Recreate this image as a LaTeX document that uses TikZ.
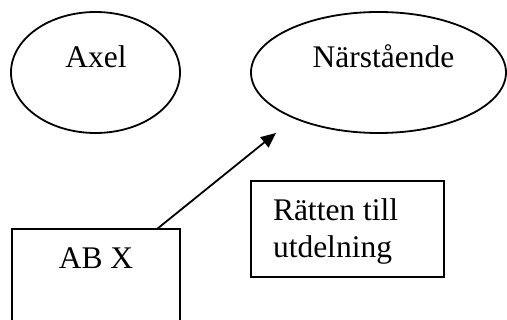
\documentclass[tikz,border=0pt]{standalone}
\usepackage{fontspec}
\setmainfont{Liberation Serif}
\usetikzlibrary{shapes.geometric,arrows.meta}
\begin{document}
\begin{tikzpicture}[x=1pt,y=-1pt,
  line width=1.8pt,
  every node/.style={inner sep=0pt,outer sep=0pt},
  oval/.style={draw,ellipse},
  boxshape/.style={draw,rectangle},
  lbl/.style={font=\fontsize{31.5}{37}\selectfont,anchor=base},
  arr/.style={-{Triangle[length=15pt,width=13pt]}}]
  \useasboundingbox (0,0) rectangle (507,320);

  % ellipses
  \node[oval,minimum width=169pt,minimum height=121pt] (axel) at (95.5,72.5) {};
  \node[lbl] (axeltext) at (96,68) {Axel};
  \node[oval,minimum width=255pt,minimum height=121pt] (nar) at (378.5,72.5) {};
  \node[lbl] (nartext) at (383.5,68) {Närstående};

  % boxes
  \node[boxshape,minimum width=168pt,minimum height=140pt,anchor=north west] (abx) at (12,229) {};
  \node[lbl] (abxtext) at (96,269) {AB X};
  \node[boxshape,minimum width=193pt,minimum height=96pt,anchor=north west] (ratt) at (251,181) {};
  \node[lbl,anchor=base west,align=left] (ratttext) at (273,258) {Rätten till\\utdelning};

  % connector
  \coordinate (tip) at (276,133);
  \draw[arr] ([xshift=61pt]abx.north) -- (tip);
\end{tikzpicture}
\end{document}
